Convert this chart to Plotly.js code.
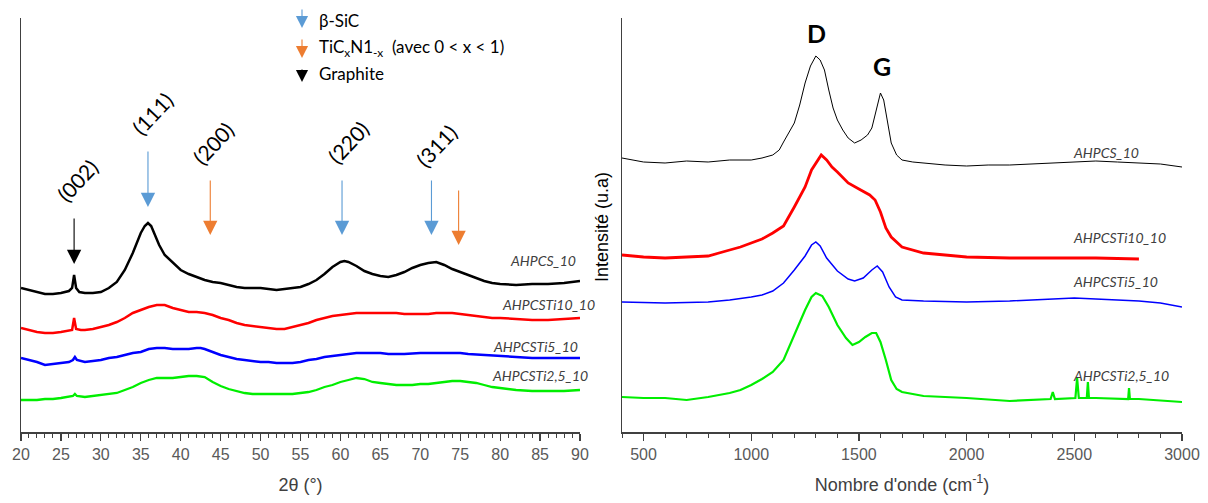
<!DOCTYPE html>
<html>
<head>
<meta charset="utf-8">
<script src="https://cdn.plot.ly/plotly-3.0.1.min.js"></script>
<style>html,body{margin:0;padding:0;background:#fff;}#chart{width:1208px;height:503px;}</style>
</head>
<body>
<div id="chart"></div>
<script>
// ---------- XRD (left panel), 2theta in degrees, intensity in arbitrary units ----------
const xrdTheta_AHPCS = [20,21,22,23,24,25,26,26.4,26.65,26.9,27.3,28,29,30,31,32,33,33.5,34,34.5,35,35.5,35.9,36.3,36.8,37.3,38,39,40,41,42,43,44,45,46,47,48,49,50,51,52,53,54,55,56,57,58,59,60,60.5,61,62,63,64,65,66,67,68,69,70,71,72,73,74,75,76,77,78,79,80,82,84,86,88,90];
const xrd_AHPCS = [144,142,140,138,138,139,141,144,157,144,140,139,139,140,144,150,162,170,179,189,199,206,209,206,197,187,177,169,162,158,155,152,150,149,147,145,144,144,144,143,142,143,144,145,148,152,158,165,170,171,170,166,161,158,156,155,157,160,164,167,169,170,167,163,160,157,154,151,149,148,147,148,148,149,151];

const xrdTheta_Ti10 = [20,21,22,23,24,25,26,26.4,26.65,26.9,27.5,28,29,30,31,32,33,34,35,36,37,38,39,40,41,42,43,44,45,46,47,48,49,50,51,52,53,54,55,56,57,58,59,60,61,62,63,64,65,66,67,68,69,70,71,72,73,74,75,76,77,78,79,80,82,84,86,88,90];
const xrd_Ti10 = [104,102,100,99,99,100,101,102,114,103,102,102,103,105,107,110,114,119,122,125,127,127,124,122,120,120,119,117,114,112,109,107,106,105,104,103,103,105,107,109,112,114,116,117,118,119,119,119,119,119,119,118,118,118,118,119,119,119,118,117,116,115,114,114,113,112,112,113,114];

const xrdTheta_Ti5 = [20,21,22,23,24,25,26,26.5,26.75,27,28,29,30,31,32,33,34,35,36,37,38,39,40,41,42,42.5,43,44,45,46,47,48,49,50,51,52,53,54,55,56,57,58,59,60,61,62,63,64,65,66,67,68,70,72,74,75,76,78,80,82,84,86,88,90];
const xrd_Ti5 = [74,72,70,67,68,69,70,72,75,72,70,71,72,74,75,77,79,80,83,84,84,83,83,83,84,84,83,80,77,75,73,72,71,70,70,69,69,69,70,72,73,75,76,77,78,79,79,79,79,78,78,78,79,79,79,79,78,77,76,75,74,74,74,74];

const xrdTheta_Ti25 = [20,21,22,23,24,25,26,26.5,26.75,27,28,29,30,31,32,33,34,35,36,37,38,39,40,41,42,43,44,45,46,47,48,49,50,51,52,53,54,55,56,57,58,59,60,61,62,63,64,65,66,67,68,69,70,71,72,73,74,75,76,77,78,79,80,82,84,86,88,90];
const xrd_Ti25 = [32,32,32,33,33,34,35,36,38,36,35,36,37,38,39,42,45,49,52,54,54,54,55,56,56,55,50,46,43,41,39,38,38,38,38,38,38,39,40,42,45,47,50,52,54,53,50,49,48,47,47,47,48,48,49,50,51,51,50,49,47,45,44,42,41,41,41,42];

// ---------- Raman (right panel), wavenumber in cm-1, intensity in arbitrary units ----------
const ramanWn_AHPCS = [400,500,600,700,800,900,1000,1050,1100,1130,1150,1175,1200,1225,1250,1275,1300,1320,1340,1360,1380,1400,1425,1450,1480,1510,1540,1560,1580,1600,1615,1630,1650,1675,1700,1750,1800,1900,2000,2100,2200,2300,2400,2500,2600,2700,2800,2900,3000];
const raman_AHPCS = [274,270,269,271,270,272,272,274,277,282,290,299,309,327,349,366,376,372,362,342,324,312,302,294,289,292,297,304,322,339,332,314,289,277,272,270,269,267,266,267,267,268,269,270,271,270,269,268,265];

const ramanWn_Ti10 = [400,500,600,700,800,900,950,1000,1050,1100,1150,1200,1250,1280,1300,1325,1350,1375,1400,1450,1500,1550,1575,1600,1625,1650,1700,1750,1800,1900,2000,2200,2400,2600,2800];
const raman_Ti10 = [177,175,174,175,176,182,185,189,193,199,206,225,245,262,269,277,272,265,260,249,243,237,232,220,204,195,185,182,179,177,175,174,174,174,173];

const ramanWn_Ti5 = [400,600,800,900,1000,1050,1100,1150,1200,1250,1280,1300,1320,1350,1400,1450,1480,1520,1560,1585,1610,1640,1670,1700,1800,2000,2200,2400,2500,2600,2800,2900,3000];
const raman_Ti5 = [130,129,130,132,135,137,141,149,162,176,187,190,186,174,161,153,151,154,162,166,160,145,135,132,131,130,131,133,134,133,131,129,125];

const ramanWn_Ti25 = [400,500,600,700,800,900,950,1000,1050,1100,1150,1200,1250,1280,1300,1330,1360,1400,1440,1470,1500,1530,1560,1580,1600,1625,1650,1675,1700,1800,2000,2200,2390,2400,2410,2505,2513,2521,2558,2563,2568,2600,2750,2754,2758,2800,3000];
const raman_Ti25 = [35,34,34,32,35,39,42,47,53,60,72,97,122,135,139,136,125,107,94,87,90,95,99,99,90,72,52,43,40,36,34,31,33,40,33,34,54,34,34,50,34,34,33,44,33,33,30];

const seriesNames = ['AHPCS_10','AHPCSTi10_10','AHPCSTi5_10','AHPCSTi2,5_10'];
const seriesColors = ['#000000','#ff0000','#0000ff','#00ee00'];

// ---------- annotation values ----------
const hklLabels = ['(002)','(111)','(200)','(220)','(311)'];
const hklLabelPos = [[27,252],[36.4,319],[44,289],[60.9,290],[72,287]];
const arrowX = [26.65,35.9,43.7,60.2,71.4,74.8];
const arrowTipY = [168,225,197,197,197,187];
const arrowLen = [47,57,56,56,56,56];
const arrowColors = ['#000000','#5b9bd5','#ed7d31','#5b9bd5','#5b9bd5','#ed7d31'];
const legendTexts = ['β-SiC','TiC<sub>x</sub>N1<sub>-x</sub>  (avec 0 &lt; x &lt; 1)','Graphite'];
const legendColors = ['#5b9bd5','#ed7d31','#000000'];

const xrdX = [xrdTheta_AHPCS,xrdTheta_Ti10,xrdTheta_Ti5,xrdTheta_Ti25];
const xrdY = [xrd_AHPCS,xrd_Ti10,xrd_Ti5,xrd_Ti25];
const ramX = [ramanWn_AHPCS,ramanWn_Ti10,ramanWn_Ti5,ramanWn_Ti25];
const ramY = [raman_AHPCS,raman_Ti10,raman_Ti5,raman_Ti25];
const xrdWidths = [2.5,2.5,2.5,2.3];
const ramWidths = [1,2.8,1.5,2.2];

const traces = [];
for (let i=0;i<4;i++){
  traces.push({x:xrdX[i], y:xrdY[i], type:'scatter', mode:'lines', name:seriesNames[i],
    line:{color:seriesColors[i], width:xrdWidths[i]}, xaxis:'x', yaxis:'y', showlegend:false, hoverinfo:'skip'});
}
for (let i=0;i<4;i++){
  traces.push({x:ramX[i], y:ramY[i], type:'scatter', mode:'lines', name:seriesNames[i],
    line:{color:seriesColors[i], width:ramWidths[i]}, xaxis:'x2', yaxis:'y2', showlegend:false, hoverinfo:'skip'});
}

const W = 1208;
const H = 414; // plot area height in px
const paperY = py => (432 - py)/H;
const ann = [];
const hklFont = {family:'Lato, "Open Sans", sans-serif', size:21, color:'#000'};
hklLabels.forEach((t,i)=>{
  ann.push({xref:'x', yref:'y', x:hklLabelPos[i][0], y:hklLabelPos[i][1], text:t, showarrow:false,
    textangle:-47, font:hklFont, xanchor:'center', yanchor:'middle'});
});
arrowX.forEach((x,i)=>{
  ann.push({xref:'x', yref:'y', x:x, y:arrowTipY[i], ax:0, ay:-arrowLen[i], text:'', showarrow:true,
    arrowhead:2, arrowsize:2.6, arrowwidth:1.1, arrowcolor:arrowColors[i], standoff:0});
});
// legend arrows + texts
const legTipY = [28,58,82];
const legLen = [20,20,14];
const legTextY = [20,48,73];
legendTexts.forEach((t,i)=>{
  ann.push({xref:'paper', yref:'paper', x:302/W, y:paperY(legTipY[i]), ax:0, ay:-legLen[i], text:'', showarrow:true,
    arrowhead:2, arrowsize:2.2, arrowwidth:1.1, arrowcolor:legendColors[i], standoff:0});
  ann.push({xref:'paper', yref:'paper', x:317/W, y:paperY(legTextY[i]), text:t, showarrow:false,
    xanchor:'left', yanchor:'middle', font:{family:'Lato, "Open Sans", sans-serif', size:17, color:'#000'}});
});
// series labels (paper coordinates so they can sit past the axis end)
const labFont = {family:'Lato, "Open Sans", sans-serif', size:14, color:'#404040'};
const xrdLabPx = [[578,260],[597,304],[580,346],[590,375]];
const ramLabPx = [[1071,152],[1071,237],[1071,281],[1071,375]];
seriesNames.forEach((n,i)=>{
  ann.push({xref:'paper', yref:'paper', x:xrdLabPx[i][0]/W, y:paperY(xrdLabPx[i][1]), text:'<i>'+n+'</i>', showarrow:false,
    xanchor:'right', yanchor:'middle', font:labFont});
  ann.push({xref:'paper', yref:'paper', x:ramLabPx[i][0]/W, y:paperY(ramLabPx[i][1]), text:'<i>'+n+'</i>', showarrow:false,
    xanchor:'left', yanchor:'middle', font:labFont});
});
// D and G
const bandLabels = ['D','G'];
const bandPos = [[1305,399],[1607,366]];
bandLabels.forEach((t,i)=>{
  ann.push({xref:'x2', yref:'y2', x:bandPos[i][0], y:bandPos[i][1], text:'<b>'+t+'</b>', showarrow:false,
    xanchor:'center', yanchor:'middle', font:{family:'Lato, "Open Sans", sans-serif', size:25, color:'#000'}});
});
// right y title
ann.push({xref:'paper', yref:'paper', x:602/W, y:paperY(227), text:'Intensité (u.a)', showarrow:false,
  textangle:-90, xanchor:'center', yanchor:'middle', font:{family:'"Liberation Sans", Arial, sans-serif', size:18, color:'#000'}});

const axisLine = {showline:true, linecolor:'#404040', linewidth:1.5, zeroline:false, showgrid:false};
const tickFont = {family:'"Liberation Sans", Arial, sans-serif', size:16, color:'#595959'};
const titleFont = {family:'"Liberation Sans", Arial, sans-serif', size:18, color:'#404040'};

const layout = {
  width:1208, height:503,
  margin:{l:0, r:0, t:18, b:71},
  paper_bgcolor:'#fff', plot_bgcolor:'#fff',
  showlegend:false,
  xaxis:Object.assign({}, axisLine, {domain:[21/W, 580/W], range:[20,90], tickmode:'linear', tick0:20, dtick:5,
    ticks:'outside', ticklen:7, tickwidth:1.2, tickcolor:'#404040', tickfont:tickFont,
    minor:{dtick:1, ticks:'outside', ticklen:4, tickwidth:1, tickcolor:'#404040'},
    title:{text:'2θ (°)', font:titleFont, standoff:16}, anchor:'y'}),
  yaxis:Object.assign({}, axisLine, {domain:[0,1], range:[0,H], showticklabels:false, ticks:'', anchor:'x'}),
  xaxis2:Object.assign({}, axisLine, {domain:[622/W, 1182/W], range:[400,3000], tickmode:'array',
    tickvals:[500,1000,1500,2000,2500,3000], ticktext:['500','1000','1500','2000','2500','3000'],
    ticks:'outside', ticklen:7, tickwidth:1.2, tickcolor:'#404040', tickfont:tickFont,
    minor:{tickmode:'linear', tick0:400, dtick:100, ticks:'outside', ticklen:4, tickwidth:1, tickcolor:'#404040'},
    title:{text:"Nombre d'onde (cm<sup>-1</sup>)", font:titleFont, standoff:16}, anchor:'y2'}),
  yaxis2:Object.assign({}, axisLine, {domain:[0,1], range:[0,H], showticklabels:false, ticks:'', anchor:'x2'}),
  annotations:ann
};

Plotly.newPlot('chart', traces, layout, {staticPlot:true, displayModeBar:false});
</script>
</body>
</html>
